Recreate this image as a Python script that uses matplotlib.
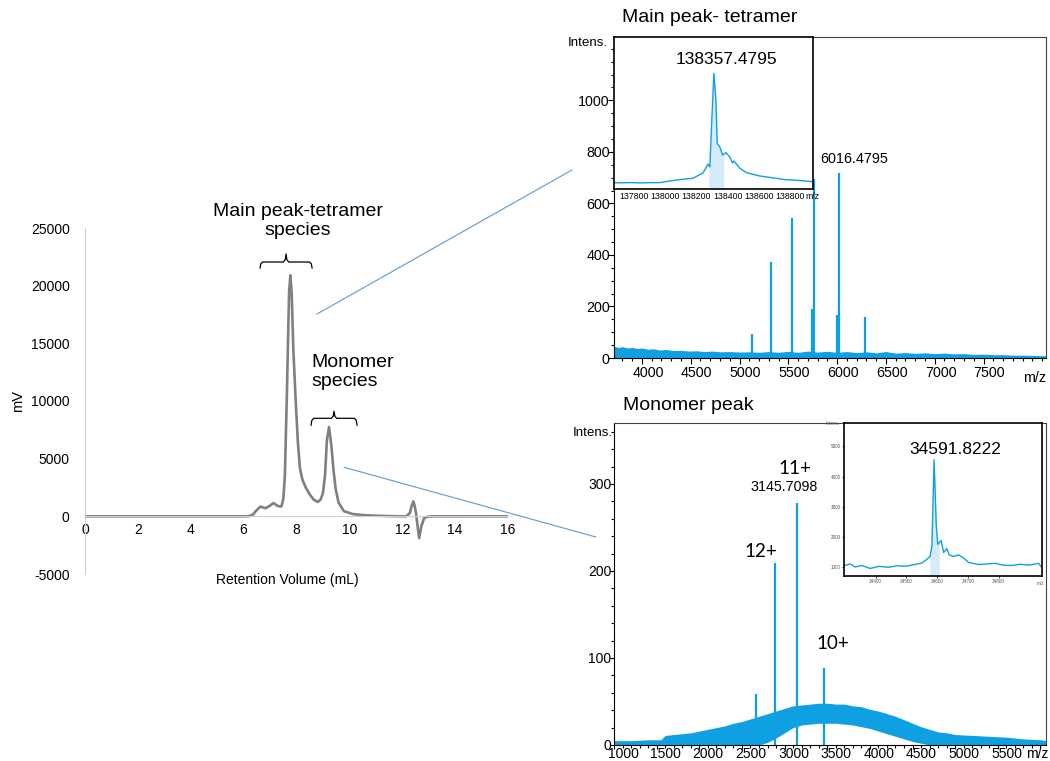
import matplotlib
matplotlib.use("Agg")
import matplotlib.pyplot as plt
from matplotlib.patches import ConnectionPatch
from matplotlib.ticker import MultipleLocator
from matplotlib.transforms import ScaledTranslation

plt.rcParams['font.family'] = ['Liberation Sans', 'DejaVu Sans']
plt.rcParams['axes.unicode_minus'] = False

BLUE = '#0ea0e2'
SHADE = '#d4ebfa'
ZOOM_LINE = '#5b9bd5'

# --- SEC chromatogram (retention volume in mL, signal in mV)
sec_ml = [0, 2, 4, 6.0, 6.21, 6.35, 6.48, 6.64, 6.82, 6.98, 7.13, 7.29, 7.43, 7.50,
          7.56, 7.64, 7.72, 7.77, 7.82, 7.88, 7.97, 8.05, 8.13, 8.22, 8.35, 8.5, 8.65,
          8.8, 8.91, 9.0, 9.08, 9.15, 9.23, 9.32, 9.40, 9.48, 9.59, 9.79, 10.13, 10.5,
          10.94, 11.5, 12.15, 12.29, 12.35, 12.42, 12.47, 12.52, 12.58, 12.64, 12.72,
          12.83, 12.96, 13.16, 14, 16]
sec_mv = [0, 0, 0, 0, 20, 150, 500, 850, 700, 900, 1150, 900, 850, 1500,
          3500, 11000, 19500, 20900, 19200, 14500, 10000, 6500, 4200, 3200, 2500, 1900, 1450,
          1250, 1450, 2000, 3600, 6600, 7750, 6100, 4000, 2400, 1200, 450, 200, 110,
          60, 20, 0, 290, 870, 1300, 900, 300, -870, -1890, -870,
          -150, -30, 0, 0, 0]

# --- native MS of main (tetramer) peak
tet_noise_mz = [3714, 3760, 3800, 3850, 3900, 3950, 4000, 4060, 4120, 4180, 4250, 4320,
                4400, 4480, 4560, 4640, 4720, 4800, 4900, 5000, 5100, 5200, 5300, 5400,
                5500, 5600, 5700, 5800, 5900, 6000, 6100, 6200, 6300, 6400, 6500, 6600,
                6700, 6800, 6900, 7000, 7100, 7200, 7300, 7400, 7500, 7600, 7700, 7800,
                7900, 8000, 8100, 8140]
tet_noise_top = [45, 41, 44, 39, 41, 37, 39, 34, 36, 31, 33, 29, 30, 27, 28, 25, 27, 24,
                 25, 23, 24, 22, 25, 22, 26, 22, 27, 23, 26, 22, 25, 21, 24, 20, 25, 19,
                 21, 18, 20, 17, 19, 16, 17, 14, 15, 13, 13, 11, 11, 10, 9, 9]
tet_peak_mz = [5125, 5322, 5535, 5746, 5766, 5996, 6016, 6290]
tet_peak_int = [95, 374, 542, 190, 695, 167, 717, 160]

# deconvoluted tetramer (inset)
tet_dec_mz = [137674, 137720, 137780, 137840, 137900, 137968, 138032, 138100, 138179,
              138243, 138262, 138275, 138287, 138300, 138313, 138326, 138334, 138351,
              138369, 138390, 138415, 138432, 138441, 138479, 138522, 138607, 138660,
              138714, 138760, 138818, 138880, 138946]
tet_dec_int = [63, 62, 64, 61, 63, 64, 80, 95, 107, 160, 210, 250, 220, 700, 1157, 890,
               457, 420, 340, 363, 320, 260, 280, 207, 163, 130, 118, 107, 95, 90, 82, 73]
tet_sel = (138281, 138377)

# --- native MS of monomer peak
mon_noise_mz = [1000, 1200, 1400, 1550, 1600, 1700, 1800, 1900, 2000, 2100, 2200, 2300,
                2400, 2500, 2600, 2700, 2800, 2900, 3000, 3100, 3200, 3300, 3400, 3500,
                3600, 3700, 3800, 3900, 4000, 4100, 4200, 4300, 4400, 4500, 4600, 4700,
                4800, 4900, 5000, 5200, 5400, 5600, 5800, 6000, 6065]
mon_noise_top = [5, 5, 6, 6, 11, 12, 13, 14, 16, 18, 20, 22, 25, 27, 30, 33, 36, 39, 42,
                 45, 46, 47, 48, 48, 47, 47, 45, 44, 41, 39, 36, 33, 29, 25, 21, 18, 15,
                 14, 12, 11, 10, 9, 7, 6, 5]
mon_noise_low = [0, 0, 0, 0, 0, 0, 0, 0, 0, 0, 0, 0, 0, 0, 0, 0, 3, 8, 14, 20, 23, 24,
                 25, 25, 25, 24, 23, 21, 19, 16, 13, 10, 7, 4, 2, 0, 0, 0, 0, 0, 0, 0, 0,
                 0, 0]
mon_peak_mz = [2662, 2883.5, 3145.7, 3460.2]
mon_peak_int = [59, 209, 278, 88]
mon_charge = ['13+', '12+', '11+', '10+']

# deconvoluted monomer (inset)
mon_dec_mz = [34300, 34317, 34333, 34355, 34382, 34410, 34442, 34470, 34496, 34517,
              34550, 34566, 34577, 34583, 34590, 34597, 34602, 34613, 34621, 34631,
              34639, 34653, 34670, 34686, 34702, 34735, 34760, 34789, 34815, 34843,
              34870, 34898, 34930, 34939]
mon_dec_int = [1050, 1100, 1000, 1050, 950, 1020, 990, 1040, 1020, 1060, 1130, 1250,
               1350, 1700, 4560, 2400, 1750, 1880, 1480, 1610, 1400, 1350, 1400, 1300,
               1150, 1080, 1100, 1120, 1060, 1050, 1090, 1060, 1120, 1000]
mon_sel = (34576, 34607)

fig = plt.figure(figsize=(10.5, 7.61), dpi=100)
W, H = 1050, 761


def box(x0, y0, x1, y1):
    # pixel box (top-left origin) -> figure fraction rect
    return [x0 / W, 1 - y1 / H, (x1 - x0) / W, (y1 - y0) / H]


def shift_labels(ax, dx_px):
    off = ScaledTranslation(dx_px / 100, 0, fig.dpi_scale_trans)
    for t in ax.xaxis.get_major_ticks():
        t.label1.set_transform(t.label1.get_transform() + off)


# ---------------- chromatogram
ax = fig.add_axes(box(85, 228, 508, 574))
ax.plot(sec_ml, sec_mv, color='#808080', lw=1.9, solid_joinstyle='round')
ax.set_xlim(0, 16)
ax.set_ylim(-5000, 25000)
ax.set_xticks(range(0, 17, 2))
ax.set_yticks(range(-5000, 25001, 5000))
for s in ['top', 'right']:
    ax.spines[s].set_visible(False)
ax.spines['left'].set_color('#d0d0d0')
ax.spines['bottom'].set_position(('data', 0))
ax.spines['bottom'].set_color('#d0d0d0')
ax.tick_params(length=0, labelsize=10)
ax.tick_params(axis='y', pad=11)
ax.tick_params(axis='x', pad=5)
fig.text(287 / W, 1 - 580 / H, 'Retention Volume (mL)', ha='center', va='center', fontsize=10)
fig.text(18 / W, 1 - 401 / H, 'mV', ha='center', va='center', rotation=90, fontsize=10.5)


def brace(ax, x0, x1, y, h_end, h_tip):
    xm = (x0 + x1) / 2
    e = 0.1
    ax.plot([x0, x0 + e * 0.3, x0 + e, xm - e, xm - e * 0.3, xm, xm + e * 0.3, xm + e,
             x1 - e, x1 - e * 0.3, x1],
            [y - h_end, y - h_end * 0.3, y, y, y + h_tip * 0.3, y + h_tip, y + h_tip * 0.3,
             y, y, y - h_end * 0.3, y - h_end],
            color='black', lw=0.9, clip_on=False)


brace(ax, 6.62, 8.59, 22050, 520, 700)
brace(ax, 8.55, 10.29, 8500, 600, 610)
ax.text(8.06, 25600, 'Main peak-tetramer\nspecies', ha='center', va='center',
        fontsize=14, linespacing=1.15)
ax.text(8.55, 12543, 'Monomer\nspecies', ha='left', va='center', fontsize=14,
        linespacing=1.15)

# ---------------- tetramer spectrum
at = fig.add_axes(box(614, 37, 1046, 358))
at.fill_between(tet_noise_mz, 0, tet_noise_top, color=BLUE, lw=0)
at.vlines(tet_peak_mz, 0, tet_peak_int, color=BLUE, lw=1.6)
at.set_xlim(3714, 8140)
at.set_ylim(0, 1246)
at.set_xticks(range(4000, 7501, 500))
at.set_yticks(range(0, 1001, 200))
at.xaxis.set_minor_locator(MultipleLocator(100))
at.yaxis.set_minor_locator(MultipleLocator(50))
at.tick_params(which='both', direction='out', labelsize=10.3, width=0.8)
at.tick_params(which='major', length=4)
at.tick_params(which='minor', length=2)
at.tick_params(axis='y', pad=-1)
at.tick_params(axis='x', pad=2)
for s in ['top', 'right']:
    at.spines[s].set_color('#444444')
shift_labels(at, 6)
at.text(1.0, -0.04, 'm/z', transform=at.transAxes, ha='right', va='top', fontsize=10.3)
at.text(-0.015, 0.98, 'Intens.', transform=at.transAxes, ha='right', va='center', fontsize=9.6)
at.text(5824, 773, '6016.4795', ha='left', va='center', fontsize=10.4)
fig.text(622 / W, 1 - 18 / H, 'Main peak- tetramer', ha='left', va='center', fontsize=14)

ai = fig.add_axes(box(614, 37, 813, 189))
ai.plot(tet_dec_mz, tet_dec_int, color=BLUE, lw=1.0)
sel = [(m, v) for m, v in zip(tet_dec_mz, tet_dec_int) if tet_sel[0] <= m <= tet_sel[1]]
ai.fill_between([tet_sel[0]] + [m for m, _ in sel] + [tet_sel[1]],
                0, [210] + [v for _, v in sel] + [350], color=SHADE, lw=0, zorder=0)
ai.set_xlim(137674, 138947)
ai.set_ylim(0, 1520)
ai.set_xticks(range(137800, 138801, 200))
ai.set_yticks([])
ai.tick_params(axis='x', length=0, labelsize=6.3, pad=2)
for s in ai.spines.values():
    s.set_linewidth(1.2)
ai.text(0.995, -0.02, 'm/z', transform=ai.transAxes, ha='center', va='top', fontsize=6.3)
ai.text(138396, 1290, '138357.4795', ha='center', va='center', fontsize=12.5)

# ---------------- monomer spectrum
am = fig.add_axes(box(614, 423, 1046, 745))
am.fill_between(mon_noise_mz, mon_noise_low, mon_noise_top, color=BLUE, lw=0)
am.vlines(mon_peak_mz, 0, mon_peak_int, color=BLUE, lw=1.6)
am.set_xlim(1000, 6065)
am.set_ylim(0, 370)
am.set_xticks(range(1000, 5501, 500))
am.set_yticks(range(0, 301, 100))
am.xaxis.set_minor_locator(MultipleLocator(100))
am.yaxis.set_minor_locator(MultipleLocator(20))
am.tick_params(which='both', direction='out', width=0.8)
am.tick_params(which='major', length=3)
am.tick_params(which='minor', length=2)
am.tick_params(axis='x', labelsize=10, pad=-1.5)
am.tick_params(axis='y', labelsize=10, pad=-1)
for s in ['top', 'right']:
    am.spines[s].set_color('#444444')
shift_labels(am, 9)
am.text(1.005, -0.006, 'm/z', transform=am.transAxes, ha='right', va='top', fontsize=10)
am.text(-0.002, 0.97, 'Intens.', transform=am.transAxes, ha='right', va='center', fontsize=9.6)
charge_font = ['Lato', 'DejaVu Sans']
am.text(2723, 222, mon_charge[1], ha='center', va='center', fontsize=13.5, family=charge_font)
am.text(3122, 317.5, mon_charge[2], ha='center', va='center', fontsize=13.5, family=charge_font)
am.text(3561, 117, mon_charge[3], ha='center', va='center', fontsize=13.5, family=charge_font)
am.text(2993, 296, '3145.7098', ha='center', va='center', fontsize=10.3)
fig.text(623 / W, 1 - 405 / H, 'Monomer peak', ha='left', va='center', fontsize=14)

amin = fig.add_axes(box(844, 423, 1042, 576))
amin.plot(mon_dec_mz, mon_dec_int, color=BLUE, lw=1.0)
sel = [(m, v) for m, v in zip(mon_dec_mz, mon_dec_int) if mon_sel[0] <= m <= mon_sel[1]]
amin.fill_between([mon_sel[0]] + [m for m, _ in sel] + [mon_sel[1]],
                  700, [1350] + [v for _, v in sel] + [1800], color=SHADE, lw=0, zorder=0)
amin.set_xlim(34297, 34941)
amin.set_ylim(700, 5780)
amin.set_xticks(range(34400, 34801, 100))
amin.set_yticks(range(1000, 5001, 1000))
amin.tick_params(labelsize=3.3, length=1.5, width=0.5, pad=1, labelcolor='#555555')
for s in amin.spines.values():
    s.set_linewidth(1.2)
amin.text(0.99, -0.03, 'm/z', transform=amin.transAxes, ha='center', va='top',
          fontsize=3.3, color='#555555')
amin.text(-0.02, 0.995, 'Intens.', transform=amin.transAxes, ha='right', va='center',
          fontsize=3.3, color='#555555')
amin.text(34658, 4885, '34591.8222', ha='center', va='center', fontsize=12.5)

# ---------------- zoom connector lines
fig.add_artist(ConnectionPatch(xyA=(8.77, 17535), coordsA=ax.transData,
                               xyB=(-0.097, 0.586), coordsB=at.transAxes,
                               color=ZOOM_LINE, lw=0.8))
fig.add_artist(ConnectionPatch(xyA=(9.80, 4253), coordsA=ax.transData,
                               xyB=(-0.042, 0.646), coordsB=am.transAxes,
                               color=ZOOM_LINE, lw=0.8))

fig.savefig('out.png', dpi=100)
